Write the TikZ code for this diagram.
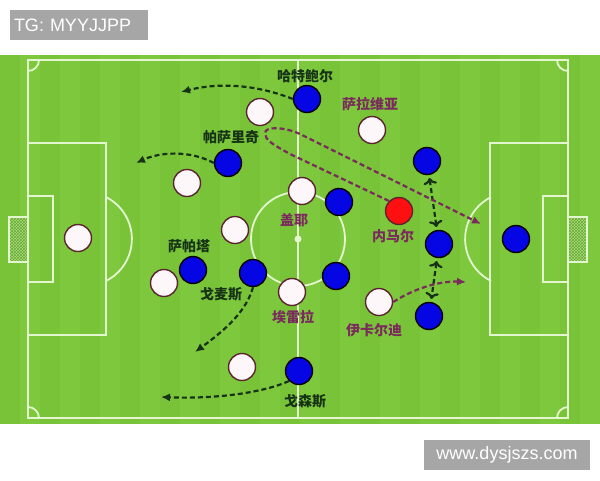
\documentclass[tikz,border=0pt]{standalone}
\usepackage{fontspec}
\setmainfont{Liberation Sans}
\newfontfamily\cjk{Noto Sans CJK SC}
\usetikzlibrary{arrows.meta,patterns}
\definecolor{grass}{HTML}{7DC83C}
\definecolor{grassdk}{HTML}{79C339}
\definecolor{pline}{HTML}{E4F6CF}
\definecolor{wfill}{HTML}{FDF7F9}
\definecolor{wring}{HTML}{5C2430}
\definecolor{bfill}{HTML}{0606E4}
\definecolor{rfill}{HTML}{FF1010}
\definecolor{darkrun}{HTML}{173317}
\definecolor{purprun}{HTML}{7A2A5C}
\definecolor{wmgray}{HTML}{A6A6A6}
\definecolor{netgreen}{HTML}{A8DC7E}

\begin{document}
\begin{tikzpicture}[x=1pt,y=-1pt]
%[line width=1.8pt]
\tikzset{
  pitch/.style={draw=pline,line width=1.8pt},
  wplayer/.style={shape=circle,minimum size=27pt,inner sep=0pt,draw=wring,fill=wfill,line width=1.4pt},
  bplayer/.style={shape=circle,minimum size=27pt,inner sep=0pt,draw=black,fill=bfill,line width=1.4pt},
  rplayer/.style={shape=circle,minimum size=27pt,inner sep=0pt,draw=wring,fill=rfill,line width=1.4pt},
  dname/.style={font=\cjk\bfseries\fontsize{14}{14}\selectfont,text=darkrun},
  pname/.style={font=\cjk\bfseries\fontsize{14}{14}\selectfont,text=purprun},
  drun/.style={draw=darkrun,line width=2.2pt,dash pattern=on 5pt off 3pt,-{Latex[length=9pt,width=8pt]}},
  prun/.style={draw=purprun,line width=2.2pt,dash pattern=on 5pt off 3pt,-{Latex[length=9pt,width=8pt]}},
  wmark/.style={fill=wmgray,text=white,font=\fontsize{18}{18}\selectfont,inner sep=0pt,minimum height=30pt}
}
\useasboundingbox (0,0) rectangle (600,480);
\fill[white] (0,0) rectangle (600,480);

% field
\fill[grass] (0,55) rectangle (600,424);
\foreach \s in {0,40,...,580}
  \fill[grassdk] (\s,55) rectangle ++(20,369);

% goals
\fill[netgreen] (9,217) rectangle (28,262);
\fill[pattern=crosshatch,pattern color=grass!85!black] (9,217) rectangle (28,262);
\draw[pitch] (28,217) -- (9,217) -- (9,262) -- (28,262);
\fill[netgreen] (568,217) rectangle (587,262);
\fill[pattern=crosshatch,pattern color=grass!85!black] (568,217) rectangle (587,262);
\draw[pitch] (568,217) -- (587,217) -- (587,262) -- (568,262);

% lines
\draw[pitch] (28,60) rectangle (568,418);
\draw[pitch] (298,60) -- (298,418);
\draw[pitch] (298,239) circle (47);
\fill[pline] (298,239) circle (3.5);
\draw[pitch] (28,143) rectangle (106,335);
\draw[pitch] (28,196) rectangle (53,282);
\draw[pitch] (490,143) rectangle (568,335);
\draw[pitch] (543,196) rectangle (568,282);
\draw[pitch] (85,239) ++(-63.4:46.9) arc[start angle=-63.4,end angle=63.4,radius=46.9];
\draw[pitch] (512,239) ++(116.6:46.9) arc[start angle=116.6,end angle=243.4,radius=46.9];
\draw[pitch] (39,60) arc[start angle=0,end angle=90,radius=11];
\draw[pitch] (557,60) arc[start angle=180,end angle=90,radius=11];
\draw[pitch] (39,418) arc[start angle=0,end angle=-90,radius=11];
\draw[pitch] (557,418) arc[start angle=180,end angle=270,radius=11];

% white team
\path (78,238) node (W1) [wplayer] {};
\path (260,112) node (W2) [wplayer] {};
\path (372,130) node (W3) [wplayer] {};
\path (187,183) node (W4) [wplayer] {};
\path (302,191) node (W5) [wplayer] {};
\path (235,230) node (W6) [wplayer] {};
\path (164,283) node (W7) [wplayer] {};
\path (292,292) node (W8) [wplayer] {};
\path (379,302) node (W9) [wplayer] {};
\path (242,367) node (W10) [wplayer] {};

% blue team
\path (307,99) node (B1) [bplayer] {};
\path (228,163) node (B2) [bplayer] {};
\path (339,202) node (B3) [bplayer] {};
\path (427,161) node (B4) [bplayer] {};
\path (439,244) node (B5) [bplayer] {};
\path (516,239) node (B6) [bplayer] {};
\path (193,270) node (B7) [bplayer] {};
\path (253,273) node (B8) [bplayer] {};
\path (336,276) node (B9) [bplayer] {};
\path (429,316) node (B10) [bplayer] {};
\path (299,371) node (B11) [bplayer] {};
\path (399,211) node (R1) [rplayer] {};

% names
\path (305,76) node (Lhb) [dname] {哈特鲍尔};
\path (370,104) node (Lsl) [pname] {萨拉维亚};
\path (231,137) node (Lps) [dname] {帕萨里奇};
\path (294,220) node (Lgy) [pname] {盖耶};
\path (393,236) node (Lnm) [pname] {内马尔};
\path (189,246) node (Lzp) [dname] {萨帕塔};
\path (221,294) node (Lgm) [dname] {戈麦斯};
\path (293,317) node (Lhr) [pname] {埃雷拉};
\path (374,330) node (Lik) [pname] {伊卡尔迪};
\path (305,401) node (Lgs) [dname] {戈森斯};

% runs
\coordinate (a1) at (181,92);
\coordinate (a2) at (136,163);
\coordinate (a3) at (195,352);
\coordinate (a4) at (161,397);
\coordinate (a5) at (481,224);
\coordinate (a6) at (466,282);

\draw [drun] (B1.west) .. controls (250,82) and (212,84) .. (a1);
\draw [drun] (B2.west) .. controls (190,150) and (160,152) .. (a2);
\draw [drun] (B8.south) .. controls (246,312) and (225,330) .. (a3);
\draw [drun] (B11.south west) .. controls (260,394) and (210,399) .. (a4);
\draw [drun,<->,shorten <=3pt,shorten >=3pt] (B4) -- (B5);
\draw [drun,<->,shorten <=3pt,shorten >=3pt] (B5) -- (B10);
\draw [prun] (R1.north west) -- (290,154) .. controls (272,144) and (265,140) .. (265,133)
  .. controls (265,126) and (285,127) .. (300,134) -- (a5);
\draw [prun] (W9.east) .. controls (420,285) and (445,281) .. (a6);

% watermarks
\path (79,25) node (tg) [wmark,text width=130pt,inner xsep=4pt,align=left] {TG: MYYJJPP};
\path (507,455) node (site) [wmark,minimum width=166pt] {www.dysjszs.com};

\end{tikzpicture}
\end{document}
